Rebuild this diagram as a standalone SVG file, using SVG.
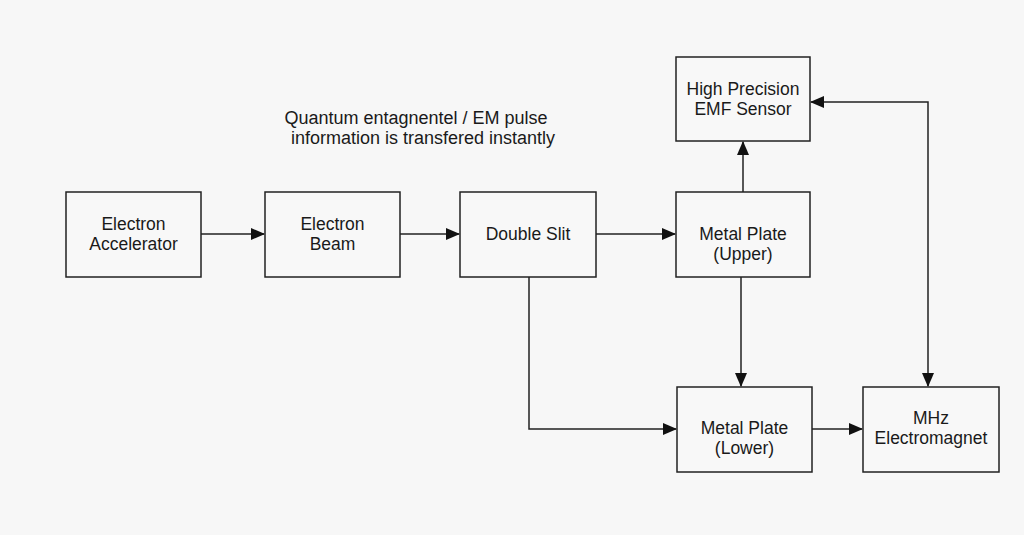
<svg xmlns="http://www.w3.org/2000/svg" width="1024" height="535" viewBox="0 0 1024 535">
<defs>
<marker id="arr" markerWidth="14" markerHeight="12" refX="13" refY="6" orient="auto-start-reverse" markerUnits="userSpaceOnUse">
<path d="M0,0 L14,6 L0,12 Z" fill="#111"/>
</marker>
<style>
.box{fill:#f8f8f8;stroke:#222;stroke-width:1.5}
.lbl{font-family:"Liberation Sans",Arial,sans-serif;font-size:17.5px;fill:#1a1a1a;text-anchor:middle}
.ttl{font-size:18px}
.con{fill:none;stroke:#222;stroke-width:1.5}
</style>
</defs>
<rect width="1024" height="535" fill="#f7f7f7"/>
<g id="title">
<text class="lbl ttl" x="416" y="124">Quantum entagnentel / EM pulse</text>
<text class="lbl ttl" x="423" y="144">information is transfered instantly</text>
</g>
<g id="n-accelerator">
<rect class="box" x="66" y="192" width="135" height="85"/>
<text class="lbl" x="133.5" y="230">Electron</text>
<text class="lbl" x="133.5" y="250">Accelerator</text>
</g>
<g id="n-beam">
<rect class="box" x="265" y="192" width="135" height="85"/>
<text class="lbl" x="332.5" y="230">Electron</text>
<text class="lbl" x="332.5" y="250">Beam</text>
</g>
<g id="n-slit">
<rect class="box" x="460" y="192" width="136" height="85"/>
<text class="lbl" x="528" y="240">Double Slit</text>
</g>
<g id="n-upper">
<rect class="box" x="676" y="192" width="134" height="85"/>
<text class="lbl" x="743" y="240">Metal Plate</text>
<text class="lbl" x="743" y="260">(Upper)</text>
</g>
<g id="n-sensor">
<rect class="box" x="676" y="57" width="134" height="84"/>
<text class="lbl" x="743" y="95">High Precision</text>
<text class="lbl" x="743" y="115">EMF Sensor</text>
</g>
<g id="n-lower">
<rect class="box" x="677" y="387" width="135" height="85"/>
<text class="lbl" x="744.5" y="434">Metal Plate</text>
<text class="lbl" x="744.5" y="454">(Lower)</text>
</g>
<g id="n-magnet">
<rect class="box" x="863" y="387" width="136" height="85"/>
<text class="lbl" x="931" y="424">MHz</text>
<text class="lbl" x="931" y="444">Electromagnet</text>
</g>
<g id="connectors">
<line class="con" x1="201" y1="234" x2="264" y2="234" marker-end="url(#arr)"/>
<line class="con" x1="400" y1="234" x2="459" y2="234" marker-end="url(#arr)"/>
<line class="con" x1="596" y1="234" x2="675" y2="234" marker-end="url(#arr)"/>
<line class="con" x1="743" y1="192" x2="743" y2="142" marker-end="url(#arr)"/>
<line class="con" x1="741" y1="277" x2="741" y2="386" marker-end="url(#arr)"/>
<polyline class="con" points="529,277 529,429 676,429" marker-end="url(#arr)"/>
<line class="con" x1="812" y1="429" x2="862" y2="429" marker-end="url(#arr)"/>
<polyline class="con" points="928,386 928,102 811,102" marker-start="url(#arr)" marker-end="url(#arr)"/>
</g>
</svg>
